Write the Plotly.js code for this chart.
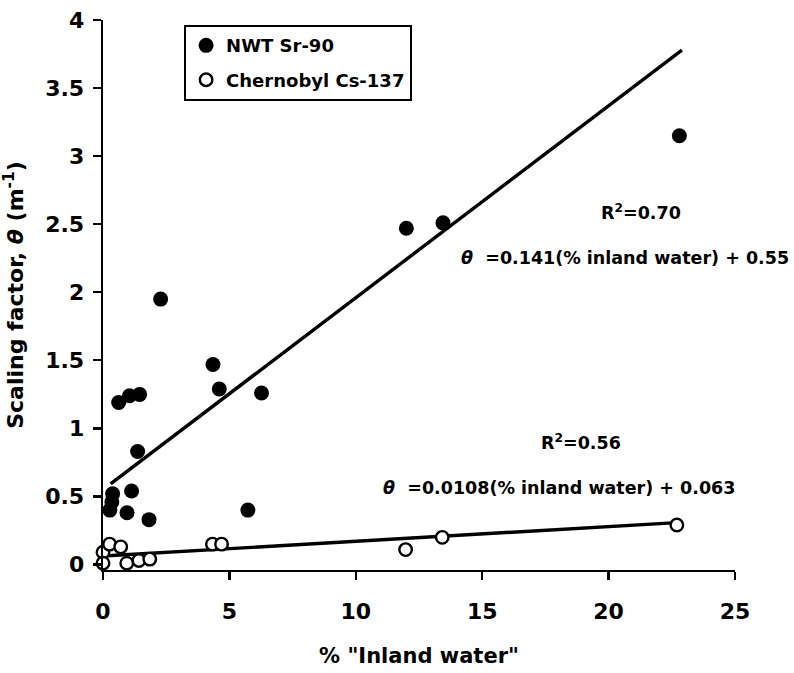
<!DOCTYPE html>
<html>
<head>
<meta charset="utf-8">
<script src="https://cdn.plot.ly/plotly-3.0.1.min.js"></script>
<style>html,body{margin:0;padding:0;background:#fff;}#chart{width:794px;height:673px;}</style>
</head>
<body>
<div id="chart"></div>
<script>
// NWT Sr-90 (filled)
const nwtX = [22.8, 13.45, 12.0, 2.28, 4.35, 4.6, 6.27, 0.62, 1.05, 1.45, 1.37, 1.13, 0.95, 1.82, 5.73, 0.38, 0.35, 0.27];
const nwtY = [3.15, 2.51, 2.47, 1.95, 1.47, 1.29, 1.26, 1.19, 1.24, 1.25, 0.83, 0.54, 0.38, 0.33, 0.40, 0.52, 0.46, 0.40];
// Chernobyl Cs-137 (open)
const csX = [0.0, 0.0, 0.26, 0.70, 0.94, 1.42, 1.85, 4.33, 4.69, 11.97, 13.42, 22.7];
const csY = [0.09, 0.01, 0.15, 0.13, 0.01, 0.03, 0.04, 0.15, 0.15, 0.11, 0.20, 0.29];
// regression fits: slope, intercept, x extent
const fitSlope = [0.141, 0.0108];
const fitIntercept = [0.55, 0.063];
const fitXStart = [0.3, 0.0];
const fitXEnd = [22.9, 22.7];
const xTicks = [0, 5, 10, 15, 20, 25];
const yTicks = [0, 0.5, 1, 1.5, 2, 2.5, 3, 3.5, 4];

const FONT = 'DejaVu Sans, Liberation Sans, Arial, sans-serif';
function fitLine(i) {
  const xs = [fitXStart[i], fitXEnd[i]];
  return {x: xs, y: xs.map(v => fitSlope[i] * v + fitIntercept[i])};
}
const f0 = fitLine(0), f1 = fitLine(1);
const traces = [
  {x: f0.x, y: f0.y, mode: 'lines', line: {color: '#000', width: 3.4}, showlegend: false, hoverinfo: 'skip'},
  {x: f1.x, y: f1.y, mode: 'lines', line: {color: '#000', width: 3.4}, showlegend: false, hoverinfo: 'skip'},
  {x: nwtX, y: nwtY, mode: 'markers', name: 'NWT Sr-90', cliponaxis: false, legendgroup: 'a',
   marker: {symbol: 'circle', size: 15, color: '#000', line: {color: '#000', width: 0}}},
  {x: csX, y: csY, mode: 'markers', name: 'Chernobyl Cs-137', cliponaxis: false, legendgroup: 'b',
   marker: {symbol: 'circle', size: 12.5, color: '#fff', line: {color: '#000', width: 2.4}}}
];
const nb = '\u00a0';
const AF = {family: FONT, size: 17.5, weight: 'bold'};
const layout = {
  width: 794, height: 673,
  margin: {l: 103, r: 58.5, t: 20, b: 102.5},
  paper_bgcolor: '#fff', plot_bgcolor: '#fff',
  font: {family: FONT, color: '#000', size: 20},
  showlegend: true,
  legend: {x: 0.128, y: 0.991, xanchor: 'left', yanchor: 'top', bordercolor: '#000', borderwidth: 2.2,
           bgcolor: '#fff', font: {family: FONT, size: 18, weight: 'bold'}, tracegroupgap: 8, itemwidth: 30},
  xaxis: {range: [0, 25], tickvals: xTicks, ticktext: xTicks.map(String), showgrid: false, zeroline: false,
          showline: true, linecolor: '#000', linewidth: 2.4, ticks: 'outside', ticklen: 8, tickwidth: 2.2, tickcolor: '#000',
          tickfont: {family: FONT, size: 22, weight: 'bold'}, ticklabelstandoff: 12,
          title: {text: '% "Inland water"', font: {family: FONT, size: 21, weight: 'bold'}, standoff: 26}},
  yaxis: {range: [-0.04, 4], tickvals: yTicks, ticktext: yTicks.map(String), showgrid: false, zeroline: false,
          showline: true, linecolor: '#000', linewidth: 2.4, ticks: 'outside', ticklen: 8, tickwidth: 2.2, tickcolor: '#000',
          tickfont: {family: FONT, size: 22, weight: 'bold'}, ticklabelstandoff: 4,
          title: {text: 'Scaling factor, <i>θ</i> (m<sup>-1</sup>)', font: {family: FONT, size: 22, weight: 'bold'}, standoff: 16}},
  annotations: [
    {xref: 'paper', yref: 'paper', x: 0.851, y: 0.651, xanchor: 'center', yanchor: 'middle', showarrow: false,
     text: 'R<sup>2</sup>=0.70', font: AF},
    {xref: 'paper', yref: 'paper', x: 0.826, y: 0.568, xanchor: 'center', yanchor: 'middle', showarrow: false,
     text: '<i>θ</i>' + nb + nb + '=0.141(% inland water) + 0.55', font: AF},
    {xref: 'paper', yref: 'paper', x: 0.757, y: 0.232, xanchor: 'center', yanchor: 'middle', showarrow: false,
     text: 'R<sup>2</sup>=0.56', font: AF},
    {xref: 'paper', yref: 'paper', x: 0.721, y: 0.150, xanchor: 'center', yanchor: 'middle', showarrow: false,
     text: '<i>θ</i>' + nb + nb + '=0.0108(% inland water) + 0.063', font: AF}
  ]
};
Plotly.newPlot('chart', traces, layout, {displayModeBar: false, staticPlot: true});
</script>
</body>
</html>
